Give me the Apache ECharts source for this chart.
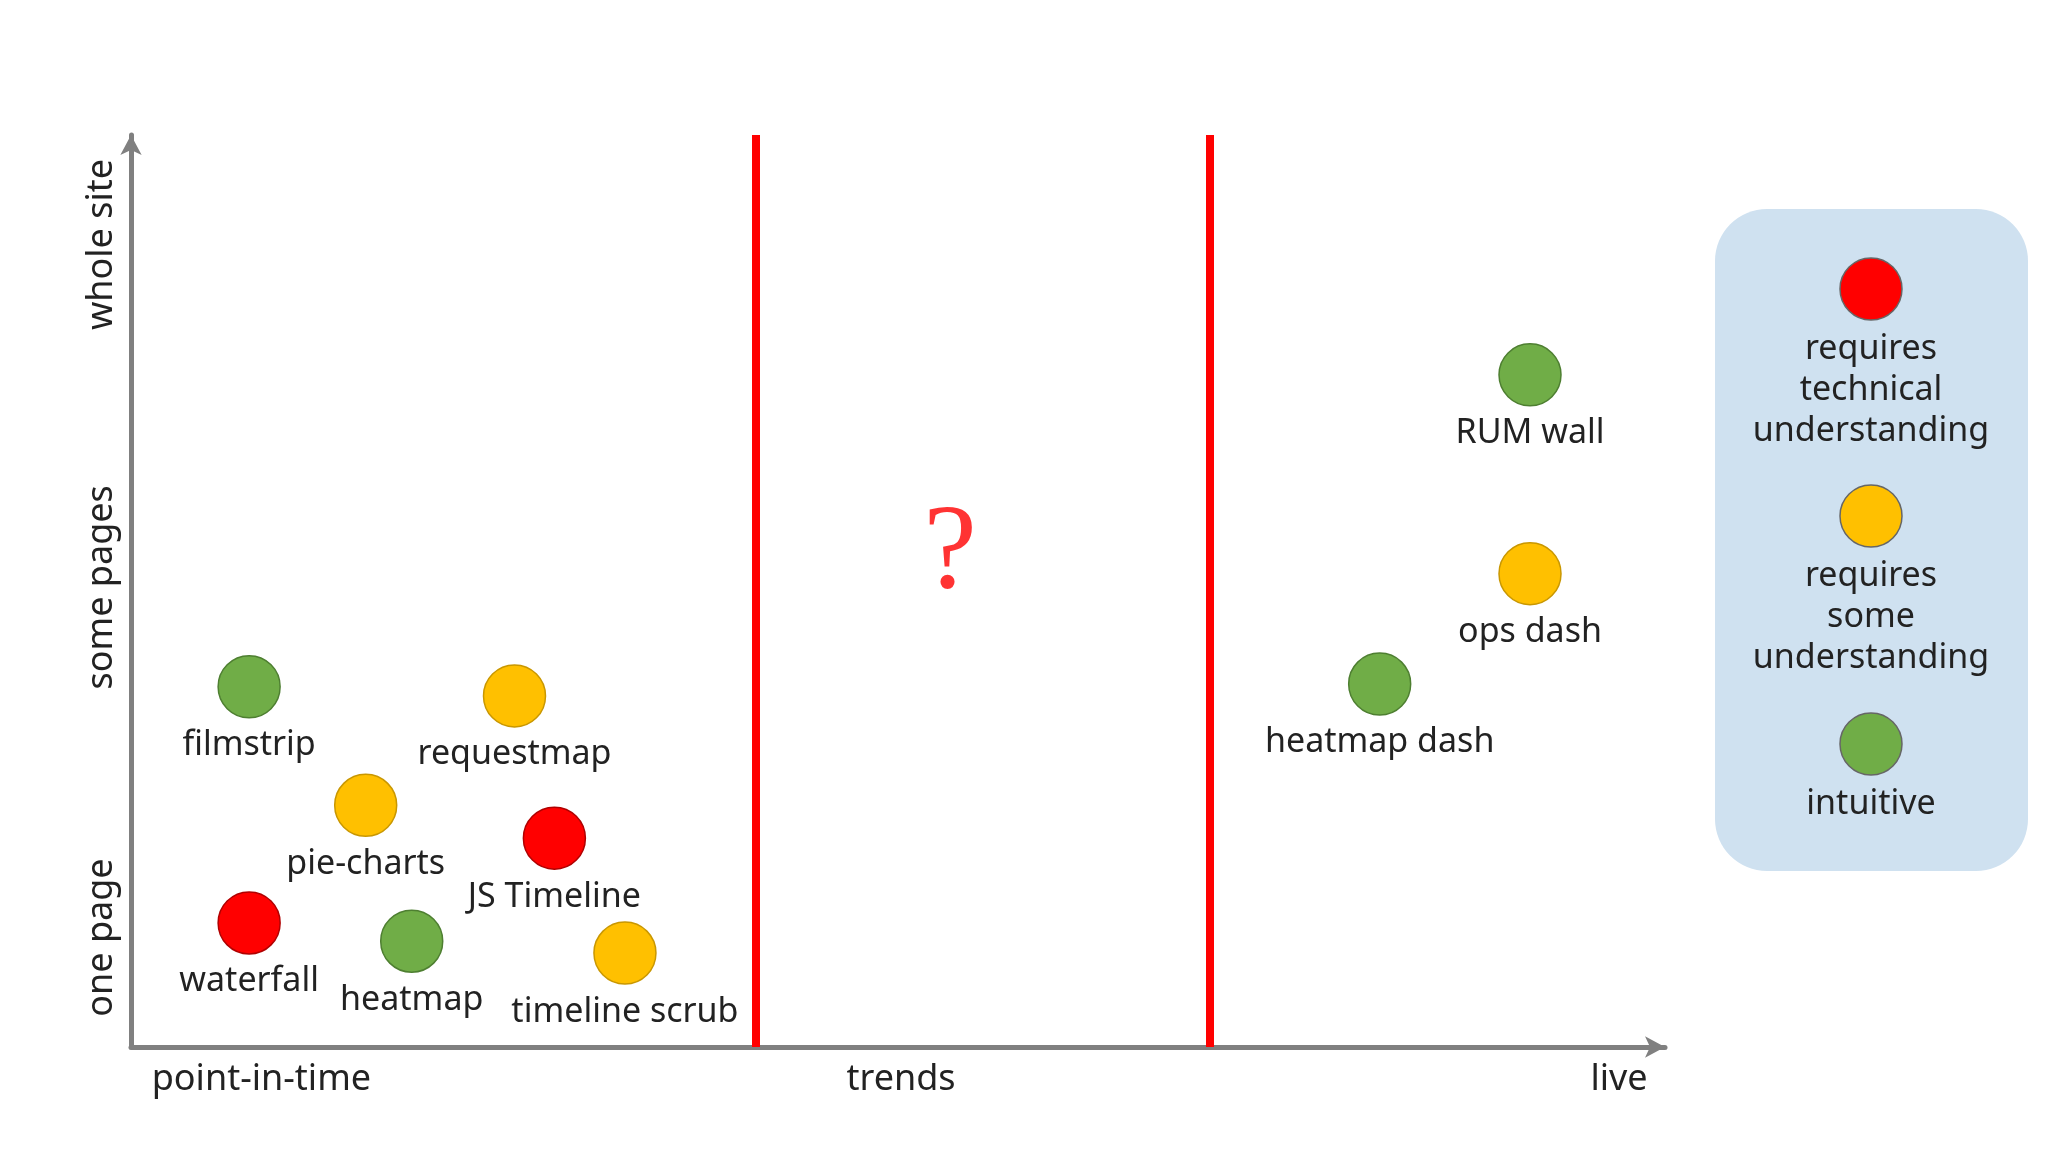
<!DOCTYPE html>
<html><head><meta charset="utf-8">
<script src="https://cdn.jsdelivr.net/npm/echarts@6/dist/echarts.min.js"></script>
<style>html,body{margin:0;padding:0;background:#fff}#c{width:2048px;height:1152px}</style>
</head><body><div id="c"></div>
<script>
const FONT = '"Noto Sans", sans-serif';
const greenPts = [['filmstrip',7.7,39.5],['heatmap',18.3,11.6],['RUM wall',91.2,73.7],['heatmap dash',81.4,39.8]];
const amberPts = [['requestmap',25.0,38.5],['pie-charts',15.3,26.5],['timeline scrub',32.2,10.3],['ops dash',91.2,51.9]];
const redPts = [['JS Timeline',27.6,22.9],['waterfall',7.7,13.6]];
const dividers = [40.7, 70.3];
const xLabels = [['point-in-time',8.5],['trends',50.2],['live',97]];
const yLabels = [['one page',12],['some pages',50.4],['whole site',88]];
const legendItems = [['#ff0000','requires\ntechnical\nunderstanding'],['#ffc000','requires\nsome\nunderstanding'],['#70ad47','intuitive']];

const chart = echarts.init(document.getElementById('c'));
function pts(arr, color, border){
  return {type:'scatter', symbolSize:62, data:arr.map(p=>({name:p[0],value:[p[1],p[2]]})),
    itemStyle:{color:color,borderColor:border,borderWidth:1.5,opacity:1},
    label:{show:true,formatter:'{b}',position:'bottom',distance:10,color:'#222',fontSize:34,fontFamily:FONT},
    emphasis:{disabled:true}};
}
chart.setOption({
  animation:false,
  grid:{left:131,right:383,top:135,bottom:105},
  xAxis:{type:'value',min:0,max:100,splitLine:{show:false},axisTick:{show:false},axisLabel:{show:false},
    axisLine:{lineStyle:{color:'#808080',width:5},symbol:['none','arrow'],symbolSize:[16,20]}},
  yAxis:{type:'value',min:0,max:100,splitLine:{show:false},axisTick:{show:false},axisLabel:{show:false},
    axisLine:{lineStyle:{color:'#808080',width:5},symbol:['none','arrow'],symbolSize:[16,20]}},
  series:[
    {type:'scatter',data:[{name:'?',value:[53.4,53.9]}],symbolSize:0,
      label:{show:true,formatter:'?',position:'inside',color:'#ff0000',fontSize:120,fontFamily:'"Liberation Serif", serif'},
      markLine:{silent:true,symbol:'none',label:{show:false},lineStyle:{color:'#ff0000',width:8,type:'solid'},
        data:dividers.map(v=>[{coord:[v,0]},{coord:[v,100]}])}},
    pts(greenPts,'#70ad47','#4e7f31'),
    pts(amberPts,'#ffc000','#c99700'),
    pts(redPts,'#ff0000','#b00000')
  ]
});
const g = [];
xLabels.forEach(l=>{const p=chart.convertToPixel({gridIndex:0},[l[1],0]);
  g.push({type:'text',x:p[0],y:p[1]+33,style:{text:l[0],fill:'#222',font:'36px '+FONT,align:'center',verticalAlign:'middle'}});});
yLabels.forEach(l=>{const p=chart.convertToPixel({gridIndex:0},[0,l[1]]);
  g.push({type:'text',x:102,y:p[1],rotation:Math.PI/2,style:{text:l[0],fill:'#222',font:'36px '+FONT,align:'center',verticalAlign:'middle'}});});
g.push({type:'rect',shape:{x:1715,y:209,width:313,height:662,r:52},style:{fill:'#cfe1f0'}});
const ly=[289,516,744];
legendItems.forEach((it,i)=>{
  g.push({type:'circle',shape:{cx:1871,cy:ly[i],r:31},style:{fill:it[0],stroke:'#666',lineWidth:1.5}});
  g.push({type:'text',x:1871,y:ly[i]+40,style:{text:it[1],fill:'#222',font:'34px '+FONT,align:'center',verticalAlign:'top',lineHeight:41}});
});
chart.setOption({graphic:g});
</script></body></html>
